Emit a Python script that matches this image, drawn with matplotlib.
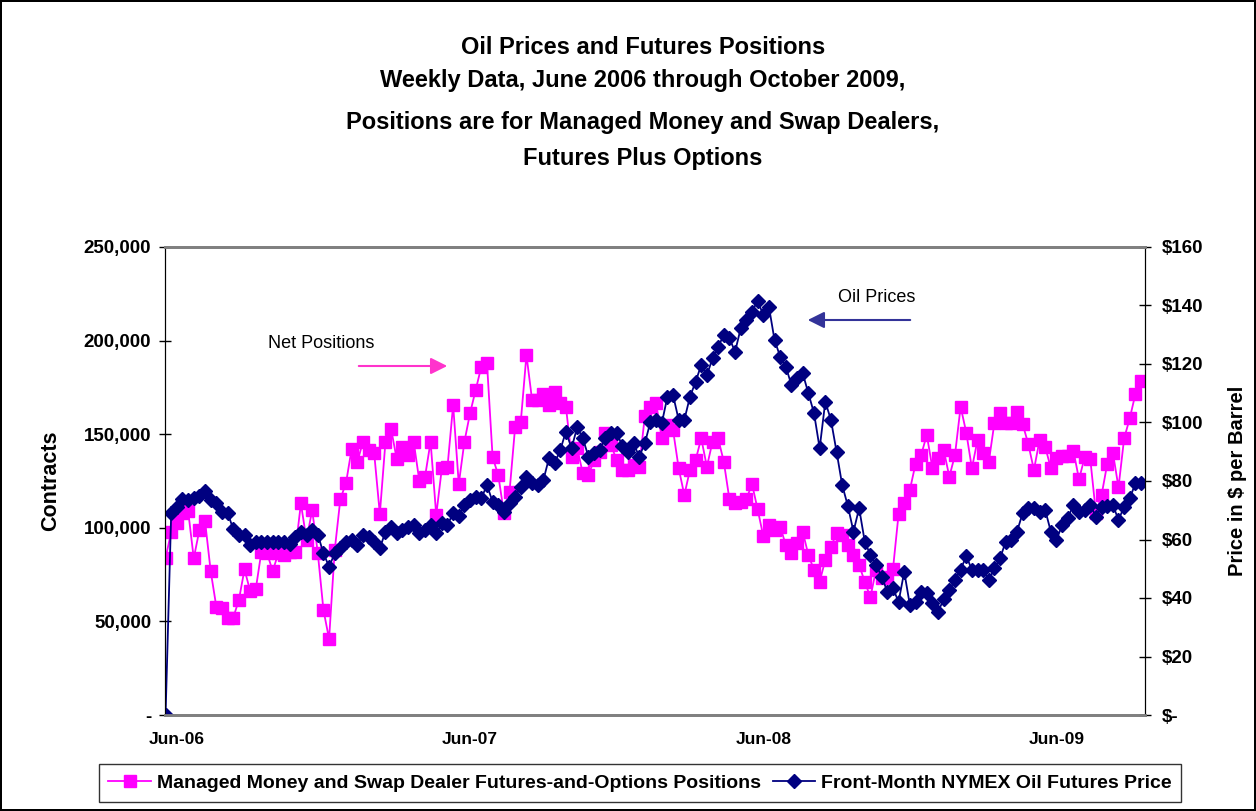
import matplotlib
matplotlib.use("Agg")
import matplotlib.pyplot as plt
from matplotlib.ticker import FuncFormatter

# weekly values, June 2006 - October 2009
positions = [
    83700, 97900, 102700, 107700, 109100, 83700, 98800, 103600, 76900, 57900,
    57000, 52000, 52000, 61400, 77800, 66200, 67300, 87300, 86400, 76900,
    86400, 85500, 87300, 87300, 113000, 93500, 109500, 86500, 56100, 40600,
    88100, 115400, 123900, 142100, 135100, 145800, 141600, 139800, 107400, 146000,
    152800, 136600, 143300, 138900, 146000, 125200, 127000, 146000, 106800, 131800,
    132600, 165600, 123400, 146000, 161200, 173600, 186100, 188200, 137700, 128200,
    108100, 119300, 154000, 156700, 192300, 168300, 168300, 171500, 165600, 172700,
    166500, 164700, 138000, 142500, 129100, 128200, 136200, 140700, 150500, 144200,
    136200, 130900, 130900, 133500, 132600, 159700, 164700, 166500, 147800, 154900,
    152200, 131800, 117500, 130900, 136200, 147800, 132600, 146000, 147800, 135300,
    115200, 113100, 114000, 115200, 123400, 109900, 95600, 101500, 98800, 100600,
    90800, 86400, 91700, 97900, 85500, 77500, 71200, 82800, 89900, 97000,
    96200, 90800, 85500, 80100, 71200, 62900, 77500, 73000, 73900, 77800,
    107400, 113100, 120200, 134100, 138900, 149600, 131800, 137100, 141600, 127300,
    138900, 164700, 150900, 131800, 146900, 139800, 135300, 156200, 161500, 156200,
    156200, 162000, 155400, 144800, 130900, 146900, 143300, 131800, 137100, 138400,
    138400, 141200, 125900, 137700, 136600, 107700, 117500, 134100, 140200, 121600,
    147800, 158500, 171500, 178600,
]

prices = [
    0.0, 69.0, 71.2, 73.7, 73.5, 74.1, 74.9, 76.7, 73.5, 72.4,
    69.5, 69.2, 63.5, 61.5, 61.7, 58.1, 59.2, 59.2, 59.0, 59.2,
    59.0, 59.2, 58.5, 60.8, 62.7, 61.5, 63.2, 61.7, 55.3, 50.7,
    55.3, 57.0, 59.2, 59.8, 58.1, 61.5, 61.0, 59.3, 57.0, 62.7,
    64.4, 62.1, 63.2, 64.4, 65.0, 62.1, 63.2, 65.0, 62.1, 65.5,
    65.0, 69.0, 68.0, 71.8, 73.5, 74.6, 74.1, 78.6, 72.9, 71.8,
    69.5, 72.4, 74.6, 78.1, 81.5, 79.2, 78.6, 80.3, 87.8, 86.1,
    90.6, 96.9, 91.2, 98.4, 94.6, 88.3, 89.5, 90.6, 94.6, 96.3,
    96.5, 92.0, 90.0, 92.9, 88.3, 92.9, 100.3, 100.9, 99.7, 108.8,
    109.4, 100.9, 100.9, 108.8, 113.9, 119.7, 116.2, 121.9, 125.9, 129.9,
    128.8, 124.2, 132.2, 135.0, 137.9, 141.6, 136.8, 139.6, 128.2, 122.5,
    119.1, 112.8, 115.1, 116.8, 110.0, 103.2, 91.2, 107.1, 100.9, 90.0,
    78.6, 71.5, 62.7, 70.7, 59.3, 54.7, 51.3, 47.3, 42.2, 43.3,
    38.7, 49.0, 37.6, 38.7, 42.2, 41.6, 38.2, 35.3, 39.6, 42.7,
    46.2, 49.6, 54.4, 49.6, 49.6, 49.6, 46.2, 50.1, 53.6, 59.3,
    59.8, 62.7, 69.0, 70.7, 70.7, 69.5, 70.1, 62.7, 59.8, 65.0,
    67.2, 71.8, 69.5, 70.1, 71.8, 67.8, 71.2, 71.4, 71.8, 66.7,
    71.2, 74.1, 79.2, 79.2,
]

month_labels = ["Jun-06", "Jun-07", "Jun-08", "Jun-09"]
month_pos = [2, 54, 106, 158]

font_list = ["Liberation Sans", "DejaVu Sans"]
plt.rcParams["font.family"] = font_list

weeks = list(range(len(positions)))

fig = plt.figure(figsize=(12.56, 8.11), dpi=100)
fig.patch.set_edgecolor("black")
fig.patch.set_linewidth(1.5)

ax = fig.add_axes([165 / 1256, 1 - 715 / 811, 980 / 1256, 468 / 811])
ax2 = ax.twinx()

ax.plot(weeks, positions, color="#FF00FF", marker="s", markersize=8,
        linewidth=1.3, label="Managed Money and Swap Dealer Futures-and-Options Positions")
ax2.plot(weeks, prices, color="#000080", marker="D", markersize=7,
         linewidth=1.3, label="Front-Month NYMEX Oil Futures Price")

ax.set_xlim(-0.1, len(weeks) - 0.3)
ax.set_ylim(0, 250000)
ax2.set_ylim(0, 160)
ax.set_yticks(range(0, 250001, 50000))
ax2.set_yticks(range(0, 161, 20))
ax.yaxis.set_major_formatter(FuncFormatter(lambda v, p: "-" if v == 0 else f"{int(v):,}"))
ax2.yaxis.set_major_formatter(FuncFormatter(lambda v, p: "$-" if v == 0 else f"${int(v)}"))

ax.set_xticks(month_pos)
ax.set_xticklabels(month_labels)
ax.tick_params(axis="x", length=0, pad=12, labelsize=12.5)
ax.tick_params(axis="y", direction="inout", length=8, width=1, labelsize=13.5, pad=6)
ax2.tick_params(axis="y", direction="inout", length=8, width=1, labelsize=13.5, pad=8)
for a in (ax, ax2):
    for lab in a.get_xticklabels() + a.get_yticklabels():
        lab.set_fontweight("bold")

for a in (ax, ax2):
    a.spines["top"].set_color("#808080")
    a.spines["bottom"].set_color("#808080")
    a.spines["top"].set_linewidth(2)
    a.spines["bottom"].set_linewidth(2)
    a.spines["left"].set_color("black")
    a.spines["right"].set_color("black")

ax.set_ylabel("Contracts", fontsize=15.5, fontweight="bold", labelpad=16)
ax2.set_ylabel("Price in $ per Barrel", fontsize=14.5, fontweight="bold", labelpad=18)

# title
fig.text(0.512, 1 - 47 / 811, "Oil Prices and Futures Positions", ha="center", va="center",
         fontsize=17, fontweight="bold")
fig.text(0.512, 1 - 80 / 811, "Weekly Data, June 2006 through October 2009,", ha="center",
         va="center", fontsize=17, fontweight="bold")
fig.text(0.512, 1 - 122 / 811, "Positions are for Managed Money and Swap Dealers,",
         ha="center", va="center", fontsize=17, fontweight="bold")
fig.text(0.512, 1 - 158 / 811, "Futures Plus Options", ha="center", va="center",
         fontsize=17, fontweight="bold")

# annotations
fig.text(268 / 1256, 1 - 344 / 811, "Net Positions", ha="left", va="center", fontsize=13)
fig.patches.append(matplotlib.patches.FancyArrowPatch(
    (356 / 1256, 1 - 366 / 811), (450 / 1256, 1 - 366 / 811), transform=fig.transFigure,
    arrowstyle="-|>,head_length=10,head_width=5", color="#FF33CC", linewidth=1.5))
fig.text(838 / 1256, 1 - 297 / 811, "Oil Prices", ha="left", va="center", fontsize=13)
fig.patches.append(matplotlib.patches.FancyArrowPatch(
    (913 / 1256, 1 - 320 / 811), (805 / 1256, 1 - 320 / 811), transform=fig.transFigure,
    arrowstyle="-|>,head_length=10,head_width=5", color="#333399", linewidth=1.5))

# legend
h1, l1 = ax.get_legend_handles_labels()
h2, l2 = ax2.get_legend_handles_labels()
leg = fig.legend(h1 + h2, l1 + l2, loc="center", bbox_to_anchor=(640 / 1256, 1 - 783 / 811),
                 ncol=2, frameon=True, fancybox=False, edgecolor="black",
                 prop={"weight": "bold", "size": 14},
                 handlelength=2.2, columnspacing=0.6, handletextpad=0.3, borderpad=0.5)
leg.get_frame().set_linewidth(1)

fig.savefig("out.png", dpi=100, edgecolor=fig.get_edgecolor())
